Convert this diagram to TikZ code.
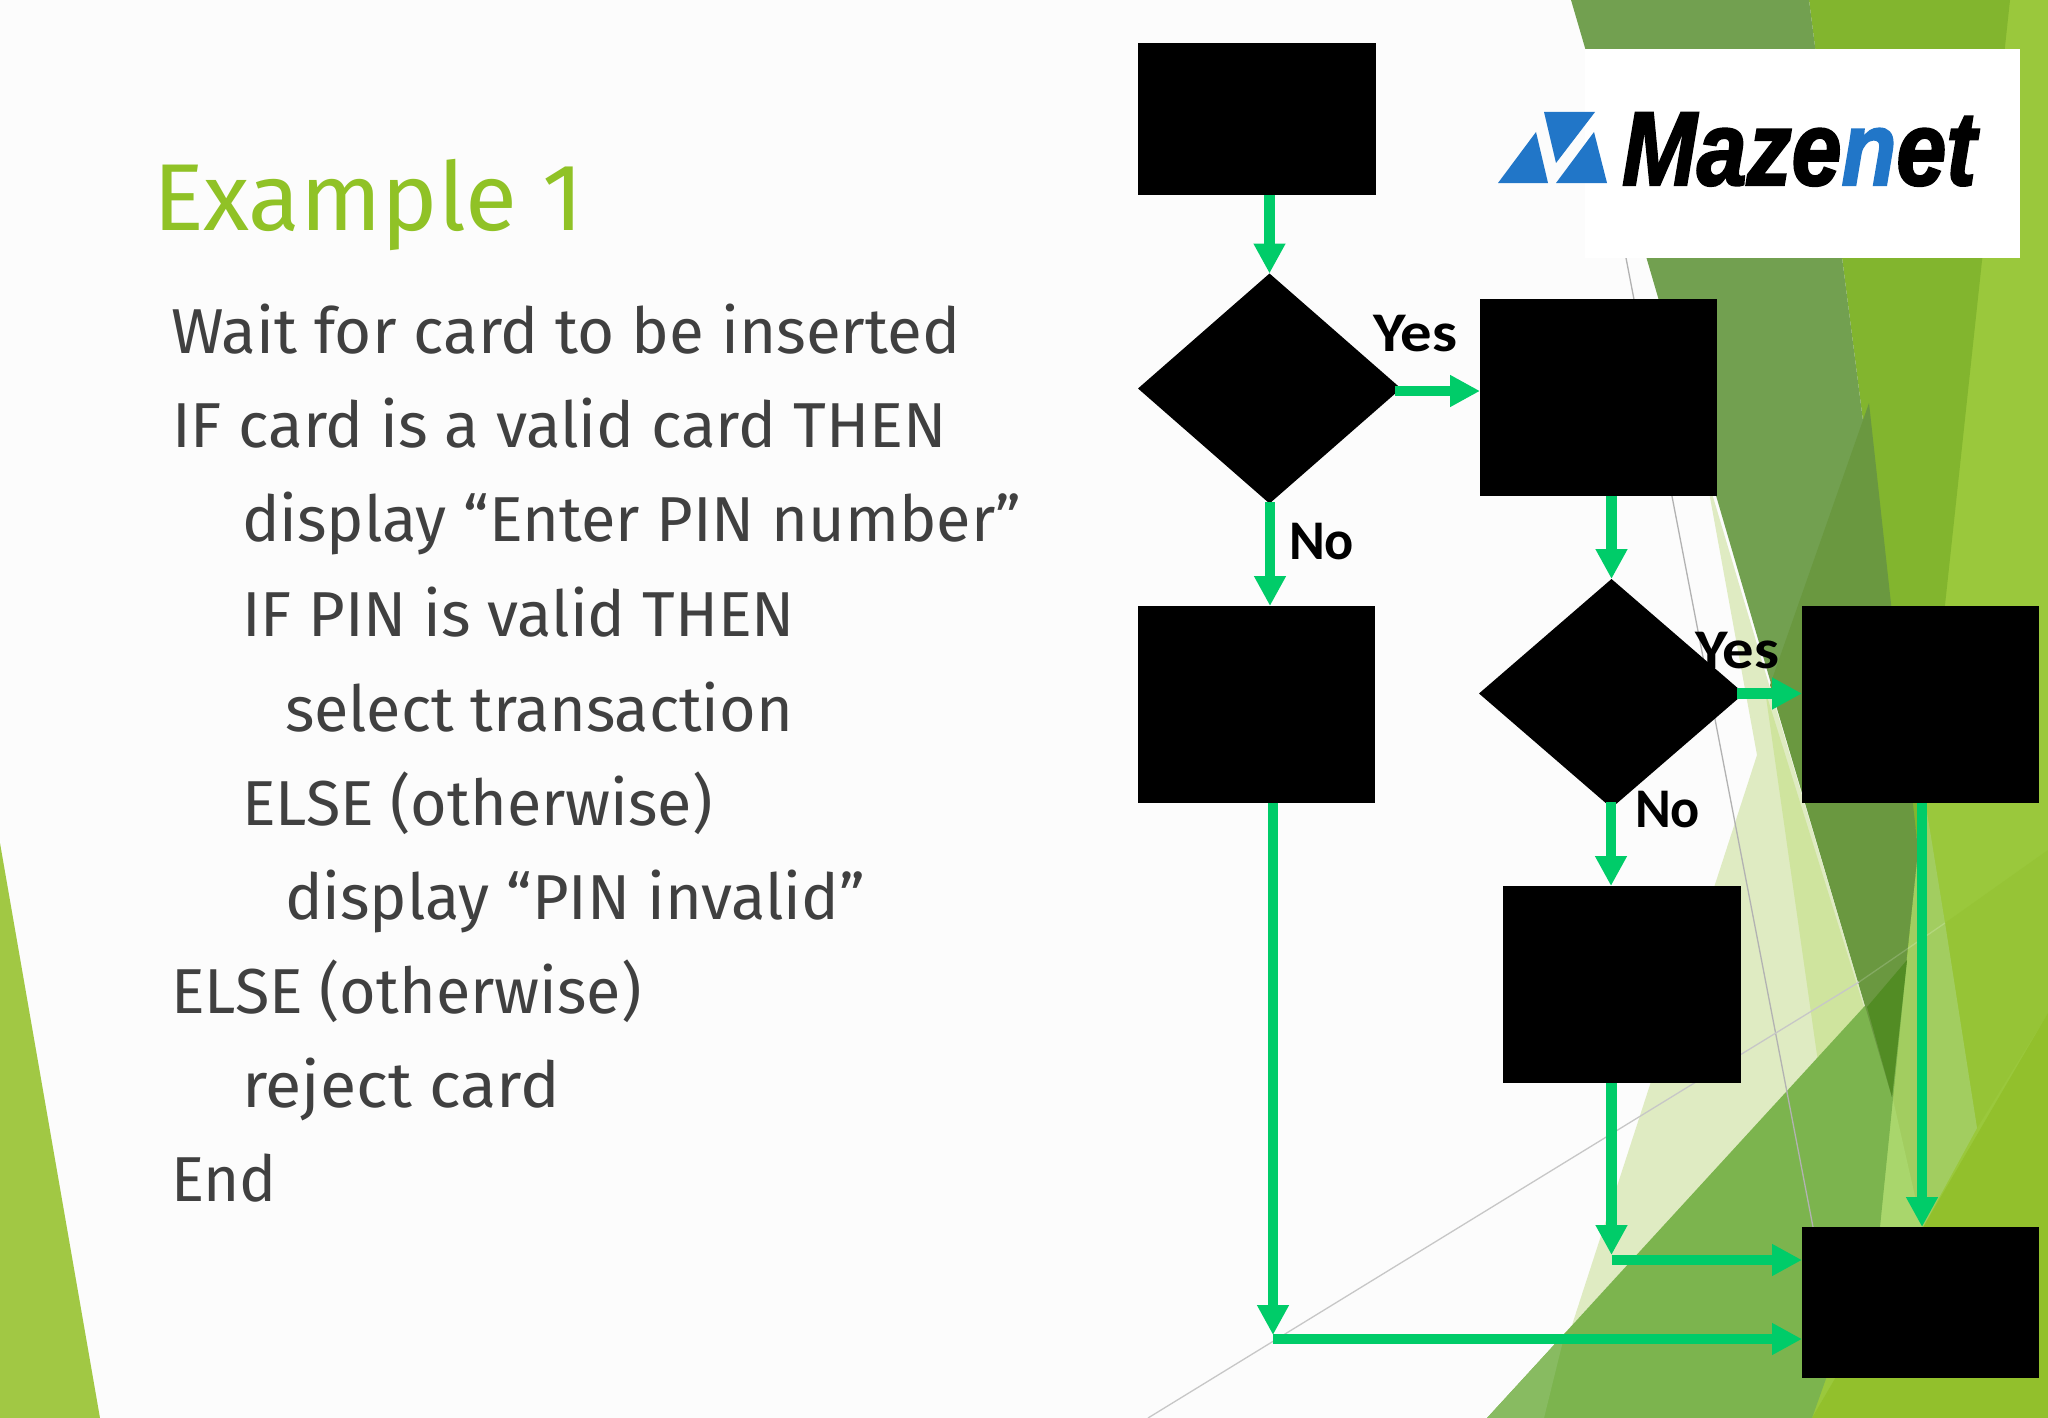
\documentclass[tikz,border=0pt]{standalone}
\usepackage{fontspec}
\usepackage{graphicx}
\setmainfont{Fira Sans}
\newfontfamily\labelfont{Carlito}
\newfontfamily\logofont[BoldItalicFeatures={FakeBold=2.2}]{Liberation Sans}
\usetikzlibrary{arrows.meta,shapes.geometric}
\definecolor{txt}{HTML}{404040}
\definecolor{ttl}{HTML}{90C226}
\definecolor{flow}{HTML}{00CC69}
\definecolor{logob}{HTML}{2176C8}
\definecolor{fbase}{HTML}{9AC83C}
\definecolor{fleft}{HTML}{A1C844}
\definecolor{fsat}{HTML}{92C02C}
\definecolor{fdark}{HTML}{72A050}
\definecolor{fdarker}{HTML}{6A9840}
\definecolor{fdeep}{HTML}{528C24}
\definecolor{fbright}{HTML}{82B52E}
\definecolor{fmid}{HTML}{7CB44E}
\definecolor{fmidl}{HTML}{88BB61}
\definecolor{fpale}{HTML}{DFEBC2}
\definecolor{fpale2}{HTML}{CFE49E}
\definecolor{flight}{HTML}{A2CD60}
\definecolor{flight2}{HTML}{A9D66C}
\definecolor{fbase2}{HTML}{96C436}
\tikzset{
  x=1pt,y=-1pt,
  box/.style={rectangle,fill=black,inner sep=0,outer sep=0,minimum width=#1},
  dec/.style={diamond,fill=black,inner sep=0,outer sep=0},
  body/.style={anchor=base west,inner sep=0,outer sep=0,text=txt,font=\fontsize{63.5}{66}\selectfont},
  lab/.style={anchor=base west,inner sep=0,outer sep=0,text=black,font=\labelfont\bfseries\fontsize{56}{60}\selectfont},
  flowline/.style={draw=flow,line width=10.5pt,-{Triangle[width=30pt,length=30pt]}},
  thinline/.style={line width=1.3pt,draw=#1},
}
\begin{document}
\begin{tikzpicture}
\useasboundingbox (0,0) rectangle (2048,1418);
\fill[white!99!black] (0,0) rectangle (2048,1418);
% background facets
\fill[fleft] (0,843) -- (100,1418) -- (0,1418) -- cycle;
\fill[fbase] (2005,0) -- (2048,0) -- (2048,1418) -- (1800,1418) -- (1880,1200) -- (1918,850) -- cycle;
\fill[fbase2] (2048,850) -- (1945,923) -- (1977,1128) -- (2048,1013) -- cycle;
\fill[fsat] (2048,1013) -- (1812,1418) -- (2048,1418) -- cycle;
\fill[fbright] (1809,0) -- (2010,0) -- (1945,605) -- (1918,850) -- cycle;
\fill[fpale] (1705,470) -- (1757,755) -- (1572,1325) -- (1867,1007) -- (1892,1097) -- cycle;
\fill[fpale2] (1765,690) -- (1818,1062) -- (1867,1007) -- (1892,1097) -- cycle;
\fill[flight] (1925,800) -- (1945,923) -- (1977,1128) -- (1923,1227) -- (1880,1227) -- (1918,850) -- cycle;
\fill[flight2] (1892,1095) -- (1878,1227) -- (1922,1227) -- cycle;
\fill[fmid] (1487,1418) -- (1907,960) -- (1880,1227) -- (1812,1418) -- cycle;
\fill[fmidl] (1487,1418) -- (1565,1333) -- (1544,1418) -- cycle;
\fill[fdark] (1571,0) -- (1892,1097) -- (1918,850) -- (1809,0) -- cycle;
\fill[fdarker] (1869,403) -- (1770,685) -- (1892,1097) -- (1918,850) -- cycle;
\fill[fdeep] (1867,1007) -- (1892,1097) -- (1907,960) -- cycle;
% thin guide lines
\draw[thinline=black!30] (1626,258) -- (1813,1227);
\draw[thinline=black!22] (1148,1418) -- (1859,982);
\draw[thinline=white,opacity=.18] (1859,982) -- (1945,923);
% logo panel
\fill[white] (1585,49) rectangle (2020,258);
\fill[logob] (1544,112) -- (1595,112) -- (1556,163) -- cycle;
\fill[logob] (1536,132) -- (1548,183) -- (1498,183) -- cycle;
\fill[logob] (1594,132) -- (1607,183) -- (1556,183) -- cycle;
\node[anchor=base west,inner sep=0,outer sep=0,font=\logofont\bfseries\itshape\fontsize{105}{110}\selectfont] (logo) at (1622,185) {\scalebox{0.855}[1]{Maze{\color{logob}n}et}};
% text
\node[anchor=base west,inner sep=0,outer sep=0,text=ttl,font=\fontsize{95}{100}\selectfont] (title) at (153,230) {Example 1};
\node[body] (t1) at (171,353) {\scalebox{1.003}[1]{Wait for card to be inserted}};
\node[body] (t2) at (172,447) {IF card is a valid card THEN};
\node[body] (t3) at (242,541) {\scalebox{0.993}[1]{display “Enter PIN number”}};
\node[body] (t4) at (242,636) {\scalebox{0.995}[1]{IF PIN is valid THEN}};
\node[body] (t5) at (285,731) {\scalebox{0.99}[1]{select transaction}};
\node[body] (t6) at (242,825) {\scalebox{0.99}[1]{ELSE (otherwise)}};
\node[body] (t7) at (285,919) {\scalebox{0.993}[1]{display “PIN invalid”}};
\node[body] (t8) at (171,1013) {\scalebox{0.99}[1]{ELSE (otherwise)}};
\node[body] (t9) at (242,1107) {\scalebox{1.044}[1]{reject card}};
\node[body] (t10) at (171,1201) {\scalebox{0.975}[1]{End}};
% flowchart nodes
\node[box=238pt,minimum height=152pt] (start) at (1257,119) {};
\node[dec,minimum width=263pt,minimum height=230pt] (d1) at (1269.5,388.5) {};
\node[box=237pt,minimum height=197pt] (yes1) at (1598.5,397.5) {};
\node[box=237pt,minimum height=197pt] (no1) at (1256.5,704.5) {};
\node[dec,minimum width=265pt,minimum height=229pt] (d2) at (1611.5,693.5) {};
\node[box=237pt,minimum height=197pt] (yes2) at (1920.5,704.5) {};
\node[box=238pt,minimum height=197pt] (no2) at (1622,984.5) {};
\node[box=237pt,minimum height=151pt] (end) at (1920.5,1302.5) {};
% connector end points
\coordinate (j1) at (1273,1339);
\coordinate (j2) at (1611.5,1260);
\coordinate (y1s) at (1395,391);
\coordinate (y2s) at (1737,693.5);
\coordinate (n1s) at (1270,502);
\coordinate (n2s) at (1611,802);
\coordinate (j1t) at (1273,1335);
\coordinate (j2t) at (1611.5,1255);
\coordinate (y2b) at (1922,803);
% connectors
\draw[flowline] (d1.north |- start.south) -- (d1.north);
\draw[flowline] (y1s) -- (yes1.west |- y1s);
\draw[flowline] (n1s) -- (n1s |- no1.north);
\draw[flowline] (d2.north |- yes1.south) -- (d2.north);
\draw[flowline] (y2s) -- (yes2.west |- y2s);
\draw[flowline] (n2s) -- (n2s |- no2.north);
\draw[flowline] (j1 |- no1.south) -- (j1t);
\draw[flowline] (j2 |- no2.south) -- (j2t);
\draw[flowline] (y2b) -- (y2b |- end.north);
\draw[flowline] (j1) -- (end.west |- j1);
\draw[flowline] (j2) -- (end.west |- j2);
% labels
\node[lab] (ly1) at (1373,351) {\scalebox{1.12}[1]{Yes}};
\node[lab] (ln1) at (1289,559) {\scalebox{0.97}[1]{No}};
\node[lab] (ly2) at (1695,668) {\scalebox{1.12}[1]{Yes}};
\node[lab] (ln2) at (1635,827) {\scalebox{0.97}[1]{No}};
\end{tikzpicture}
\end{document}
